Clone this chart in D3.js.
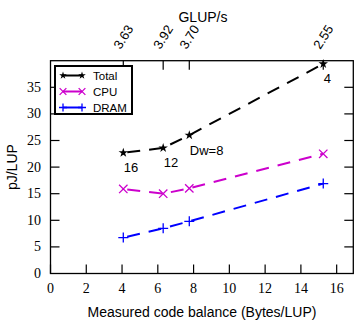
<!DOCTYPE html>
<html>
<head>
<script src="https://d3js.org/d3.v7.min.js"></script>
<style>
  body { margin: 0; background: #fff; }
  .tick-label { font-family: "Liberation Serif", serif; font-size: 14px; fill: #000; }
  .title { font-family: "Liberation Sans", Arial, sans-serif; font-size: 14px; fill: #000; }
</style>
</head>
<body>
<svg width="355" height="321"></svg>
<script>
// measured code balance (Bytes/LUP) for Dw = 16, 12, 8, 4
var balance = [4.07, 6.3, 7.76, 15.25];
var totalPJ = [22.7, 23.6, 26.0, 39.4];
var cpuPJ = [15.9, 15.0, 16.0, 22.5];
var dramPJ = [6.75, 8.5, 9.8, 16.9];
var glups = ["3.63", "3.92", "3.70", "2.55"];
var pointLabels = ["16", "12", "Dw=8", "4"];
var xTicks = [0, 2, 4, 6, 8, 10, 12, 14, 16];
var yTicks = [0, 5, 10, 15, 20, 25, 30, 35];

var svg = d3.select("svg");
var plotL = 50.5, plotR = 353.3, plotT = 60.7, plotB = 273.5;

var x = d3.scaleLinear().domain([0, 16.93]).range([plotL, plotR]);
var y = d3.scaleLinear().domain([0, 40]).range([plotB, plotT]);

var tickLen = 9;

// bottom ticks
svg.selectAll(".xt").data(xTicks).enter().append("line")
  .attr("x1", d => x(d)).attr("x2", d => x(d))
  .attr("y1", plotB).attr("y2", plotB - tickLen)
  .attr("stroke", "#000").attr("stroke-width", 1.2);
svg.selectAll(".xl").data(xTicks).enter().append("text")
  .attr("class", "tick-label")
  .attr("x", d => x(d)).attr("y", 293)
  .attr("text-anchor", "middle")
  .text(d => d);

// left and right ticks
svg.selectAll(".yt").data(yTicks.slice(1)).enter().append("line")
  .attr("x1", plotL).attr("x2", plotL + tickLen)
  .attr("y1", d => y(d)).attr("y2", d => y(d))
  .attr("stroke", "#000").attr("stroke-width", 1.2);
svg.selectAll(".yr").data(yTicks.slice(1)).enter().append("line")
  .attr("x1", plotR).attr("x2", plotR - tickLen)
  .attr("y1", d => y(d)).attr("y2", d => y(d))
  .attr("stroke", "#000").attr("stroke-width", 1.2);
svg.selectAll(".yl").data(yTicks).enter().append("text")
  .attr("class", "tick-label")
  .attr("x", 41).attr("y", d => y(d) + 4.5)
  .attr("text-anchor", "end")
  .text(d => d);

// top axis: GLUP/s at each measured point
svg.selectAll(".tt").data(balance).enter().append("line")
  .attr("x1", d => x(d)).attr("x2", d => x(d))
  .attr("y1", plotT).attr("y2", plotT + tickLen)
  .attr("stroke", "#000").attr("stroke-width", 1.2);
svg.selectAll(".tl").data(balance).enter().append("text")
  .attr("class", "title")
  .style("font-size", "13px")
  .attr("text-anchor", "middle")
  .attr("dominant-baseline", "central")
  .attr("transform", d => "translate(" + x(d) + ",37) rotate(-58)")
  .text((d, i) => glups[i]);

// frame
svg.append("rect")
  .attr("x", plotL).attr("y", plotT)
  .attr("width", plotR - plotL).attr("height", plotB - plotT)
  .attr("fill", "none").attr("stroke", "#000").attr("stroke-width", 1.3);

// titles
svg.append("text").attr("class", "title")
  .attr("x", 203).attr("y", 22).attr("text-anchor", "middle").text("GLUP/s");
svg.append("text").attr("class", "title")
  .attr("x", 202).attr("y", 317).attr("text-anchor", "middle")
  .text("Measured code balance (Bytes/LUP)");
svg.append("text").attr("class", "title")
  .attr("transform", "translate(12," + ((plotT + plotB) / 2) + ") rotate(-90)")
  .attr("text-anchor", "middle").attr("dominant-baseline", "central")
  .text("pJ/LUP");

// series
var series = [
  {name: "Total", values: totalPJ, color: "#000000", marker: "star"},
  {name: "CPU", values: cpuPJ, color: "#cc00cc", marker: "cross"},
  {name: "DRAM", values: dramPJ, color: "#0000ff", marker: "plus"}
];

var line = d3.line().x(d => x(d[0])).y(d => y(d[1]));

function drawMarker(g, type, cx, cy, color, k) {
  k = k || 1;
  if (type === "star") {
    g.append("path")
      .attr("d", d3.symbol().type(d3.symbolStar).size(28 * k * k)())
      .attr("transform", "translate(" + cx + "," + cy + ")")
      .attr("fill", color);
  } else if (type === "cross") {
    var s = 4.2 * k;
    g.append("path")
      .attr("d", "M" + (cx - s) + "," + (cy - s) + "L" + (cx + s) + "," + (cy + s) +
                 "M" + (cx - s) + "," + (cy + s) + "L" + (cx + s) + "," + (cy - s))
      .attr("stroke", color).attr("stroke-width", 1.3).attr("fill", "none");
  } else {
    var p = 5 * k;
    g.append("path")
      .attr("d", "M" + (cx - p) + "," + cy + "L" + (cx + p) + "," + cy +
                 "M" + cx + "," + (cy - p) + "L" + cx + "," + (cy + p))
      .attr("stroke", color).attr("stroke-width", 1.3).attr("fill", "none");
  }
}

series.forEach(function(s) {
  var pts = balance.map((b, i) => [b, s.values[i]]);
  svg.append("path")
    .datum(pts)
    .attr("d", line)
    .attr("fill", "none")
    .attr("stroke", s.color)
    .attr("stroke-width", 2)
    .attr("stroke-dasharray", "13,9")
    .attr("stroke-dashoffset", -4);
  var g = svg.append("g");
  pts.forEach(p => drawMarker(g, s.marker, x(p[0]), y(p[1]), s.color));
});

// Dw labels below the total points
svg.selectAll(".pl").data(balance).enter().append("text")
  .attr("class", "title")
  .style("font-size", "13px")
  .attr("x", d => x(d) + 0.5)
  .attr("y", (d, i) => y(totalPJ[i]) + 19.5)
  .text((d, i) => pointLabels[i]);

// legend
var legend = svg.append("g");
legend.append("rect")
  .attr("x", 55).attr("y", 66).attr("width", 77).attr("height", 48)
  .attr("fill", "#fff").attr("stroke", "#000").attr("stroke-width", 2);
series.forEach(function(s, i) {
  var ly = 75.5 + i * 16;
  legend.append("line")
    .attr("x1", 63).attr("x2", 82).attr("y1", ly).attr("y2", ly)
    .attr("stroke", s.color).attr("stroke-width", 2);
  drawMarker(legend, s.marker, 63, ly, s.color, 0.8);
  drawMarker(legend, s.marker, 82, ly, s.color, 0.8);
  legend.append("text")
    .attr("class", "title")
    .style("font-size", "11.5px")
    .attr("x", 93).attr("y", ly + 4)
    .text(s.name);
});
</script>
</body>
</html>
